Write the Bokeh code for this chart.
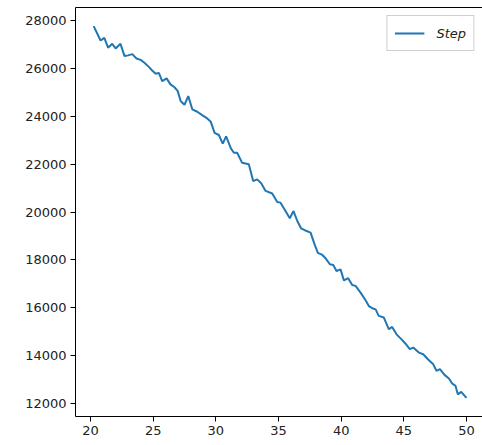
from bokeh.plotting import figure
from bokeh.models import Range1d, FixedTicker, LinearAxis, Legend, LegendItem
from bokeh.embed import file_html
from bokeh.resources import INLINE

x_vals = [20.25, 20.8, 21.1, 21.4, 21.73, 22.0, 22.39, 22.71, 23.0, 23.33, 23.67, 24.0, 24.3, 24.65,
          24.92, 25.2, 25.45, 25.72, 26.07, 26.38, 26.7, 26.95, 27.2, 27.5, 27.8, 28.12, 28.52, 28.91,
          29.31, 29.6, 29.9, 30.24, 30.55, 30.82, 31.2, 31.44, 31.7, 32.1, 32.63, 32.98, 33.3, 33.62,
          33.97, 34.5, 34.9, 35.16, 35.56, 35.9, 36.2, 36.5, 36.8, 37.1, 37.56, 37.88, 38.14, 38.5,
          38.76, 39.1, 39.37, 39.63, 39.95, 40.22, 40.56, 40.88, 41.15, 41.55, 41.95, 42.21, 42.48,
          42.75, 43.0, 43.41, 43.81, 44.07, 44.42, 44.8, 45.14, 45.48, 45.75, 46.2, 46.55, 46.92,
          47.35, 47.61, 47.88, 48.25, 48.6, 48.86, 49.13, 49.31, 49.58, 50.0]
step_vals = [27750, 27150, 27260, 26850, 27010, 26820, 27010, 26500, 26530, 26580, 26400, 26340,
             26220, 26050, 25900, 25760, 25800, 25460, 25570, 25320, 25200, 25050, 24620, 24470,
             24830, 24280, 24180, 24040, 23900, 23760, 23300, 23210, 22850, 23150, 22650, 22470,
             22470, 22050, 21990, 21290, 21360, 21200, 20880, 20770, 20420, 20390, 20040, 19740,
             20040, 19625, 19320, 19240, 19140, 18650, 18300, 18210, 18070, 17820, 17790, 17540,
             17610, 17150, 17240, 16960, 16920, 16640, 16320, 16080, 15990, 15940, 15670, 15600,
             15110, 15210, 14900, 14700, 14510, 14280, 14350, 14140, 14070, 13860, 13650, 13380,
             13450, 13210, 13060, 12850, 12750, 12400, 12500, 12250]
x_ticks = [20, 25, 30, 35, 40, 45, 50]
y_ticks = [12000, 14000, 16000, 18000, 20000, 22000, 24000, 26000, 28000]
series_name = "Step"

FONT = "DejaVu Sans"
FS = "13px"

p = figure(width=482, height=445, output_backend="svg", toolbar_location=None,
           x_range=Range1d(18.8, 51.28), y_range=Range1d(11475, 28525),
           min_border_left=75, min_border_right=0, min_border_top=7, min_border_bottom=29,
           x_axis_location="below", y_axis_location="left")
p.outline_line_color = None
p.xgrid.visible = False
p.ygrid.visible = False
p.background_fill_color = "white"
p.border_fill_color = "white"

r = p.line(x_vals, step_vals, line_color="#1f77b4", line_width=2)

for ax, ticks in ((p.xaxis[0], x_ticks), (p.yaxis[0], y_ticks)):
    ax.ticker = FixedTicker(ticks=ticks)
    ax.minor_tick_line_color = None
    ax.major_tick_in = 0
    ax.major_tick_out = 5
    ax.major_tick_line_color = "black"
    ax.axis_line_color = "black"
    ax.major_label_text_font = FONT
    ax.major_label_text_font_size = FS
    ax.major_label_text_color = "#222222"
    ax.major_label_standoff = 4

top = LinearAxis(ticker=FixedTicker(ticks=[]), major_tick_line_color=None, minor_tick_line_color=None,
                 major_label_text_font_size="0px", axis_line_color="black")
p.add_layout(top, "above")

legend = Legend(items=[LegendItem(label=series_name, renderers=[r])], location="top_right")
legend.label_text_font = FONT
legend.label_text_font_style = "italic"
legend.label_text_font_size = FS
legend.label_text_color = "#222222"
legend.border_line_color = "#d0d0d0"
legend.border_line_alpha = 1
legend.background_fill_alpha = 0.8
legend.margin = 8
legend.padding = 7
legend.glyph_width = 30
legend.label_standoff = 12
p.add_layout(legend, "center")

open("out.html", "w").write(file_html(p, INLINE))
